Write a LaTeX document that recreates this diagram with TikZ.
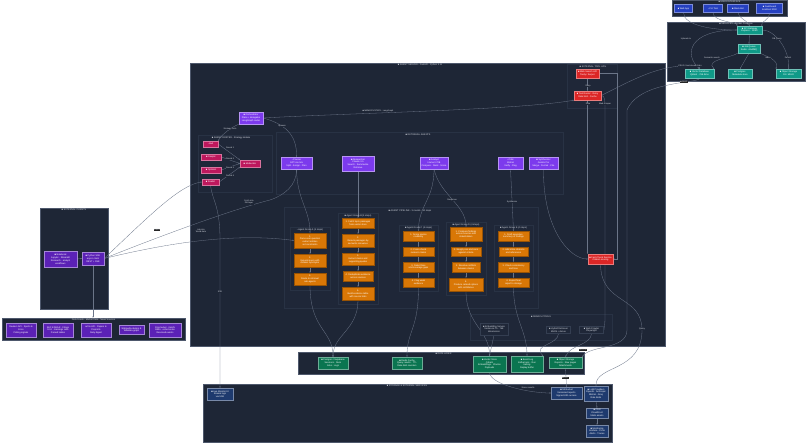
\documentclass[tikz,border=0pt]{standalone}
\usepackage{fontspec}
\setmainfont{Liberation Sans}
\usetikzlibrary{arrows.meta}
\pgfdeclarelayer{bg}
\pgfdeclarelayer{edgelayer}
\pgfsetlayers{bg,edgelayer,main}
\definecolor{panel}{HTML}{1E2636}
\definecolor{panelline}{HTML}{4E586C}
\definecolor{subfill}{HTML}{1F2738}
\definecolor{subline}{HTML}{283244}
\definecolor{toolline}{HTML}{343E51}
\definecolor{cpurp}{HTML}{7C3AED}
\definecolor{cdpurp}{HTML}{5B21B6}
\definecolor{cpink}{HTML}{BE185D}
\definecolor{cred}{HTML}{DC2626}
\definecolor{corng}{HTML}{D97706}
\definecolor{cteal}{HTML}{0F9A88}
\definecolor{cgrn}{HTML}{0A7550}
\definecolor{cblu}{HTML}{2540C0}
\definecolor{cdblu}{HTML}{1E3A6E}
\definecolor{wire}{HTML}{6B7588}
\definecolor{lbl}{HTML}{D8DCE4}
\tikzset{
  wh/.style 2 args={minimum width=#1pt, minimum height=#2pt},
  txt/.style={font=\fontsize{2.3}{2.8}\selectfont},
  panelbox/.style={fill=panel, draw=panelline, line width=0.5pt, inner sep=0pt},
  subbox/.style={fill=subfill, draw=subline, line width=0.3pt},
  box/.style={txt, text=white, align=center, inner sep=0.3pt, line width=0.35pt},
  purpnode/.style={box, fill=cpurp, draw=cpurp!55!white},
  dpurpnode/.style={box, fill=cdpurp, draw=cdpurp!55!white},
  pinknode/.style={box, fill=cpink, draw=cpink!60!white},
  rednode/.style={box, fill=cred, draw=cred!60!white},
  orngnode/.style={box, fill=corng, draw=corng!70!black},
  tealnode/.style={box, fill=cteal, draw=cteal!60!white},
  grnnode/.style={box, fill=cgrn, draw=cgrn!60!white},
  blunode/.style={box, fill=cblu, draw=cblu!60!white},
  dblunode/.style={box, fill=cdblu, draw=cdblu!60!white},
  toolnode/.style={box, text=lbl, fill=subfill, draw=toolline},
  wirel/.style={draw=wire, line width=0.3pt, -{Stealth[length=1.4pt,width=1.2pt]}},
  elab/.style={font=\fontsize{2.1}{2.5}\selectfont, text=lbl, fill=panel, inner sep=0.3pt, align=center},
  elabd/.style={font=\fontsize{2.1}{2.5}\selectfont, text=lbl, fill=black!85, inner sep=0.5pt},
  ptitle/.style={font=\fontsize{2.3}{2.8}\selectfont, text=lbl, inner sep=0.3pt},
}
\begin{document}
\begin{tikzpicture}[x=1pt,y=-1pt]
\useasboundingbox (0,0) rectangle (806,443);
\begin{pgfonlayer}{bg}
\fill[white] (0,0) rectangle (806,443);
\node[panelbox, wh={115}{16}] (uipanel) at (729.5,8) {};
\node[panelbox, wh={138}{59}] (svpanel) at (736.5,51.5) {};
\node[panelbox, wh={475}{283}] (mainpanel) at (427.5,204.5) {};
\node[panelbox, wh={68}{101}] (lpanel) at (74,258.5) {};
\node[panelbox, wh={183}{22}] (fpanel) at (93.5,329) {};
\node[panelbox, wh={286}{22}] (gpanel) at (441,363) {};
\node[panelbox, wh={409}{58}] (bpanel) at (407.5,413) {};
% faint sub-groups in the server panel
\draw[subbox] (198,135) rectangle (272,192);
\draw[subbox] (276,132) rectangle (563,194);
\draw[subbox] (567,64) rectangle (617,108);
\draw[subbox] (284,207) rectangle (538,308);
\draw[subbox] (290,227) rectangle (330,290);
\draw[subbox] (338,213) rectangle (378,304);
\draw[subbox] (399,225) rectangle (438,291);
\draw[subbox] (446,222) rectangle (486,295);
\draw[subbox] (494,225) rectangle (533,291);
\draw[subbox] (470,314) rectangle (612,340);
\end{pgfonlayer}

% ---------- titles ----------
\node[ptitle] (uititle) at (729.5,2) {■ USER INTERFACE};
\node[ptitle] (svtitle) at (736,24.2) {■ SERVICES - Docker Compose};
\node[ptitle] (maintitle) at (420,64.8) {■ AGENT SERVER - FastAPI - Python 3.11};
\node[ptitle] (tooltitle) at (593,66.8) {■ EXTERNAL TOOL APIs};
\node[ptitle] (rostertitle) at (231,138) {■ AGENT ROSTER - Strategy debate};
\node[ptitle] (rettitle) at (418,135) {■ RETRIEVAL AGENTS};
\node[ptitle] (pipetitle) at (410,211) {■ AGENT PIPELINE - 3 rounds - 10 steps};
\node[ptitle] (gA) at (310,230) {› Agent Group A (3 steps)};
\node[ptitle] (gB) at (358,215.8) {■ Agent Group B (5 steps)};
\node[ptitle] (gC) at (418.5,228.2) {■ Agent Group C (4 steps)};
\node[ptitle] (gD) at (466,224.8) {■ Agent Group D (4 steps)};
\node[ptitle] (gE) at (513.5,228.2) {■ Agent Group E (4 steps)};
\node[ptitle] (searchtitle) at (541,316.8) {■ SEARCH TOOLS};
\node[ptitle] (ltitle) at (74,209.8) {■ EXTERNAL CLIENTS};
\node[ptitle] (ftitle) at (93.5,319.8) {Data Feeds - Market Data · News Sources};
\node[ptitle] (gtitle) at (443.5,354.2) {■ DATA LAYER};
\node[ptitle] (btitle) at (407,385.6) {■ STORAGE \& EXTERNAL SERVICES};

% ---------- user interface ----------
\node[blunode, wh={18}{8}] (b1) at (683.5,8.5) {■ Web App};
\node[blunode, wh={19}{8}] (b2) at (713,8.5) {› CLI Tool};
\node[blunode, wh={21}{8}] (b3) at (738,8.5) {■ Slack Bot};
\node[blunode, wh={26}{10}] (b4) at (769.5,8.5) {■ Dashboard\\localhost:3000};

% ---------- services ----------
\node[tealnode, wh={25}{8}] (tn1) at (749.5,30) {■ API Gateway\\Express · :8080};
\node[tealnode, wh={22}{9}] (tn2) at (749,48.5) {■ Job Queue\\Redis + BullMQ};
\node[tealnode, wh={29}{9}] (tn3) at (699.5,73.5) {■ Vector Database\\Qdrant · 768 dims};
\node[tealnode, wh={24}{9}] (tn4) at (740,73.5) {■ Postgres\\Metadata store};
\node[tealnode, wh={25}{9}] (tn5) at (788.5,73.5) {■ Object Storage\\S3 / MinIO};

% ---------- server: tools ----------
\node[rednode, wh={23}{9}] (r1) at (587.5,73.5) {■ Web Search API\\Tavily / Serper};
\node[rednode, wh={27}{9}] (r2) at (587.5,95.5) {■ Tool Router · Retry\\Rate limit · Cache};
\node[rednode, wh={25}{10}] (r3) at (600.5,259) {■ Fact-Check Service\\Citation scoring};

% ---------- server: agents ----------
\node[purpnode, wh={24}{12}] (orch) at (251,118) {■ Orchestrator\\Plans + delegates\\LangGraph router};
\node[purpnode, wh={31}{12}] (pA) at (296.5,163) {› Planner\\GPT-4o mini\\Split · Assign · Plan};
\node[purpnode, wh={32}{15}] (pB) at (358,163.5) {■ Researcher\\Claude 3.5\\Search · Summarize\\Retrieve};
\node[purpnode, wh={28}{12}] (pC) at (434,163) {■ Analyst\\Llama 3 70B\\Compare · Rank · Score};
\node[purpnode, wh={25}{12}] (pD) at (510.5,163) {› Critic\\Mistral\\Verify · Flag};
\node[purpnode, wh={29}{12}] (pE) at (543.5,163) {■ Synthesizer\\Gemini Pro\\Merge · Format · Cite};

\node[pinknode, wh={15}{6}] (p1) at (210.5,144) {› Bull};
\node[pinknode, wh={20}{6}] (p2) at (211,157) {■ Skeptic};
\node[pinknode, wh={20}{6}] (p3) at (211,170) {■ Optimist};
\node[pinknode, wh={17}{6}] (p4) at (210.5,182) {■ Realist};
\node[pinknode, wh={20}{7}] (pm) at (250,163.5) {■ Moderator};

% ---------- server: pipeline ----------
\node[orngnode, wh={32}{15}] (o11) at (310,240.5) {1.\\Parse user question\\extract entities\\set constraints};
\node[orngnode, wh={32}{13}] (o12) at (310,260.5) {2.\\Expand query with\\domain synonyms};
\node[orngnode, wh={32}{12}] (o13) at (310,279) {3.\\Route to retrieval\\sub-agents};

\node[orngnode, wh={32}{10}] (o21) at (358,223) {1. Fetch top-k passages\\from vector store};
\node[orngnode, wh={32}{13}] (o22) at (358,240.5) {2.\\Rerank passages by\\semantic relevance};
\node[orngnode, wh={32}{12}] (o23) at (358,259) {3.\\Extract claims and\\supporting quotes};
\node[orngnode, wh={30}{10}] (o24) at (358,276) {4. Deduplicate evidence\\across sources};
\node[orngnode, wh={32}{13}] (o25) at (358,293.5) {5.\\Build evidence table\\with source links};

\node[orngnode, wh={31}{10}] (o31) at (418.5,236) {1. Score source\\credibility};
\node[orngnode, wh={31}{9}] (o32) at (418.5,251.5) {2. Cross-check\\numeric claims};
\node[orngnode, wh={31}{10}] (o33) at (418.5,267) {3. Detect bias\\and coverage gaps};
\node[orngnode, wh={31}{9}] (o34) at (418.5,282.5) {4. Flag weak\\evidence};

\node[orngnode, wh={32}{14}] (o41) at (466,234) {1. Compare findings\\across sources and\\stakeholders};
\node[orngnode, wh={30}{9}] (o42) at (466,251.5) {2. Weigh pros and cons\\against criteria};
\node[orngnode, wh={28}{10}] (o43) at (466,267) {3. Resolve conflicts\\between claims};
\node[orngnode, wh={34}{13}] (o44) at (466,284.5) {4.\\Produce ranked options\\with confidence};

\node[orngnode, wh={31}{10}] (o51) at (513.5,236) {1. Draft executive\\summary of findings};
\node[orngnode, wh={29}{9}] (o52) at (513.5,251.5) {2. Add inline citations\\and references};
\node[orngnode, wh={31}{10}] (o53) at (513.5,267) {3. Check consistency\\and tone};
\node[orngnode, wh={31}{9}] (o54) at (513.5,282.5) {4. Export final\\report to storage};

% ---------- server: search tools ----------
\node[toolnode, wh={28}{12}] (s1) at (494,329) {■ Embedding Service\\Sentence-T5 · 768\\dimensions};
\node[toolnode, wh={24}{7}] (s2) at (558.5,330) {■ Hybrid Retriever\\BM25 + dense};
\node[toolnode, wh={24}{7}] (s3) at (591.5,330) {■ Web Crawler\\Playwright};

% ---------- left clients ----------
\node[dpurpnode, wh={33}{16}] (lp1) at (60.5,259) {■ Notebook\\Jupyter · Streamlit\\Research · analyst\\workflows};
\node[dpurpnode, wh={22}{13}] (lp2) at (93,258.5) {■ Python SDK\\async client\\REST + SSE};

\node[dpurpnode, wh={30}{14}] (f1) at (21,330) {Reuters API · Sports \&\\Econ\\Polling signals};
\node[dpurpnode, wh={30}{14}] (f2) at (58,330) {SEC EDGAR · Filings\\10-K · Earnings calls\\Parsed tables};
\node[dpurpnode, wh={30}{14}] (f3) at (96,330) {arXiv API · Papers \&\\Preprints\\Daily digest};
\node[dpurpnode, wh={25}{9}] (f4) at (131.5,330) {Wikipedia dumps \&\\Wikidata graph};
\node[dpurpnode, wh={32}{14}] (f5) at (165,330) {Polymarket · Kalshi\\Odds · order books\\Resolved events};

% ---------- data layer ----------
\node[grnnode, wh={30}{12}] (g1) at (333,363) {■ Postgres / Supabase\\Sessions · Runs\\Jobs · Logs};
\node[grnnode, wh={30}{12}] (g2) at (407,363) {■ Redis Cache\\Query results · TTL\\Rate-limit counters};
\node[grnnode, wh={33}{16}] (g3) at (489.5,364) {■ Vector Store\\Qdrant\\Embeddings · Chunks\\Payloads};
\node[grnnode, wh={32}{16}] (g4) at (527,364) {■ Event Log\\Kafka topic · Run\\tracing\\Replay buffer};
\node[grnnode, wh={33}{11}] (g5) at (565.5,362.5) {■ Object Storage\\Reports · Raw pages\\Attachments};

% ---------- storage ----------
\node[dblunode, wh={26}{12}] (bl1) at (220,394) {■ Live Monitor UI\\Stream logs\\via SSE};
\node[dblunode, wh={31}{12}] (bl2) at (566.5,393) {■ S3 Bucket\\Versioned reports\\Signed URL access};
\node[dblunode, wh={24}{15}] (bl3) at (596,393.5) {■ LLM Providers\\OpenAI · Anthropic\\Mistral · Groq\\Rate limits};
\node[dblunode, wh={22}{10}] (bl4) at (597,413) {■ CDN\\CloudFront\\Static assets};
\node[dblunode, wh={22}{12}] (bl5) at (597,431) {■ Monitoring\\Grafana · Prom\\Alerts · Traces};

% ---------- connectors ----------
\begin{pgfonlayer}{edgelayer}
% UI to gateway
\draw[wirel] (b1.south) .. controls (683.5,26) and (715,30) .. (tn1.west);
\draw[wirel] (b2.south) .. controls (713,22) and (738,22) .. (tn1.north west);
\draw[wirel] (b3.south) .. controls (738,18) and (747,20) .. (tn1.north);
\draw[wirel] (b4.south) .. controls (769.5,20) and (760,22) .. (tn1.north east);
% services
\draw[wirel] (tn1.south) -- (tn2.north);
\draw[wirel] (tn1.west) .. controls (688,30) and (684,55) .. (tn3.north);
\draw[wirel] (tn1.east) .. controls (775,30) and (790,50) .. (tn5.north);
\draw[wirel] (tn2.south west) .. controls (730,58) and (705,60) .. (tn3.north east);
\draw[wirel] (tn2.south) -- (tn4.north);
\draw[wirel] (tn2.south east) .. controls (765,56) and (780,60) .. (tn5.north west);
% tools
\draw[wirel] (r1.south) -- (r2.north);
\draw[wirel] (r2.south) -- (r2.south |- r3.north);
\draw[wirel] (r1.east) -- ++(18,0) |- (r3.east);
\draw[wirel] (r2.east) .. controls (605,95.5) and (605,100) .. (605,110) -- (605,318) .. controls (605,325) and (604,328) .. (s3.east);
\draw[wirel] (r2.east) .. controls (625,84) and (655,66) .. (685,66) .. controls (697,66) and (699.5,67) .. (tn3.north);
\draw[wirel] (tn3.south) .. controls (699,84) and (640,80) .. (627,110) -- (627,330) .. controls (627,350) and (590,345) .. (g5.north east);
\draw[wirel] (r3.south) .. controls (601,305) and (642,295) .. (642,330) .. controls (642,372) and (596,365) .. (bl3.north);
% orchestrator
\draw[wirel] (orch.east) .. controls (350,113) and (520,110) .. (r2.south west);
\draw[wirel] (orch.east) .. controls (285,124) and (297,135) .. (pA.north);
\draw[wirel] (orch.south west) .. controls (232,127) and (222,134) .. (p1.north east);
\draw[wirel] (p1.east) -- (pm.north west);
\draw[wirel] (p2.east) -- (pm.west);
\draw[wirel] (p3.east) -- (pm.west);
\draw[wirel] (p4.east) -- (pm.south west);
% agents to pipeline
\draw[wirel] (pA.south) .. controls (297,200) and (310,210) .. (o11.north);
\draw[wirel] (pB.south) -- (o21.north);
\draw[wirel] (pC.south) .. controls (434,200) and (418.5,205) .. (o31.north);
\draw[wirel] (pC.south) .. controls (440,195) and (466,205) .. (o41.north);
\draw[wirel] (pD.south) -- (o51.north);
\draw[wirel] (pE.south) .. controls (543,230) and (570,259) .. (r3.west);
% pipeline chains
\draw[wirel] (o11.south) -- (o12.north);
\draw[wirel] (o12.south) -- (o13.north);
\draw[wirel] (o21.south) -- (o22.north);
\draw[wirel] (o22.south) -- (o23.north);
\draw[wirel] (o23.south) -- (o24.north);
\draw[wirel] (o24.south) -- (o25.north);
\draw[wirel] (o31.south) -- (o32.north);
\draw[wirel] (o32.south) -- (o33.north);
\draw[wirel] (o33.south) -- (o34.north);
\draw[wirel] (o41.south) -- (o42.north);
\draw[wirel] (o42.south) -- (o43.north);
\draw[wirel] (o43.south) -- (o44.north);
\draw[wirel] (o51.south) -- (o52.north);
\draw[wirel] (o52.south) -- (o53.north);
\draw[wirel] (o53.south) -- (o54.north);
% pipeline to data layer
\draw[wirel] (o13.south) .. controls (310,330) and (333,330) .. (g1.north);
\draw[wirel] (o25.south) .. controls (358,330) and (333,335) .. (g1.north);
\draw[wirel] (o34.south) .. controls (418.5,330) and (407,330) .. (g2.north);
\draw[wirel] (o44.south) .. controls (466,325) and (489.5,330) .. (g3.north);
\draw[wirel] (o54.south) .. controls (513.5,320) and (527,330) .. (g4.north);
\draw[wirel] (s1.south) -- (g3.north);
\draw[wirel] (s2.south) .. controls (558,345) and (532,345) .. (g4.north east);
\draw[wirel] (s3.south) .. controls (591,345) and (570,345) .. (g5.north);
% data layer to storage
\draw[wirel] (g3.south) .. controls (490,385) and (530,393) .. (bl2.west);
\draw[wirel] (g5.south) -- (bl2.north);
\draw[wirel] (bl3.south) -- (bl4.north);
\draw[wirel] (bl4.south) -- (bl5.north);
% clients
\draw[wirel] (lp1.east) -- (lp2.west);
\draw[wirel] (lp2.east) .. controls (150,240) and (230,210) .. (270,200) .. controls (285,195) and (296.5,185) .. (pA.south);
\draw[wirel] (lp2.east) .. controls (160,245) and (230,232) .. (o11.west);
\draw[wirel] (lp2.east) .. controls (150,215) and (180,185) .. (p4.west);
\draw[wirel] (lp2.south) -- (lp2.south |- fpanel.north);
\draw[wirel] (p4.south) .. controls (212,200) and (220,205) .. (220,240) -- (bl1.north);
\end{pgfonlayer}

% ---------- connector labels ----------
\node[elab] (l1) at (686,39) {Uploads to};
\node[elab] (l2) at (777,39) {DB Query};
\node[elab] (l3) at (712,58) {Semantic search};
\node[elab] (l4) at (768,58) {Index};
\node[elab] (l5) at (788,58) {Persist};
\node[elab] (l6) at (690,66) {CRUD / text-stream links};
\node[elabd] (l7) at (684,82) {■ REST};
\node[elab] (l8) at (588,86) {Resp};
\node[elab] (l9) at (588,104) {Data};
\node[elab] (l10) at (605,104) {Web scraper};
\node[elab] (l11) at (378,111) {■ MEMORY/STATE - LangGraph};
\node[elab] (l12) at (282,126) {Spawns};
\node[elab] (l13) at (230,129) {Strategy tools};
\node[elab] (l14) at (230,148) {Round 1};
\node[elab] (l15) at (230,158.5) {Round 2};
\node[elab] (l16) at (230,167.5) {Round 3};
\node[elab] (l17) at (230,176) {Round 4};
\node[elab] (l18) at (452,200) {Response};
\node[elab] (l19) at (512,202) {Synthesize};
\node[elab] (l20) at (249,202) {Fetch into\\DB layer};
\node[elab] (l21) at (201,231) {Lab into\\World data};
\node[elabd] (l22) at (157,230) {JSON};
\node[elab] (l23) at (220,292) {SSE};
\node[elab] (l24) at (642,329) {Query};
\node[elabd] (l25) at (583,350) {HTTPS};
\node[elabd] (l26) at (565.5,378) {■ PUT};
\node[elab] (l27) at (528,388) {Stores results};
\end{tikzpicture}
\end{document}
